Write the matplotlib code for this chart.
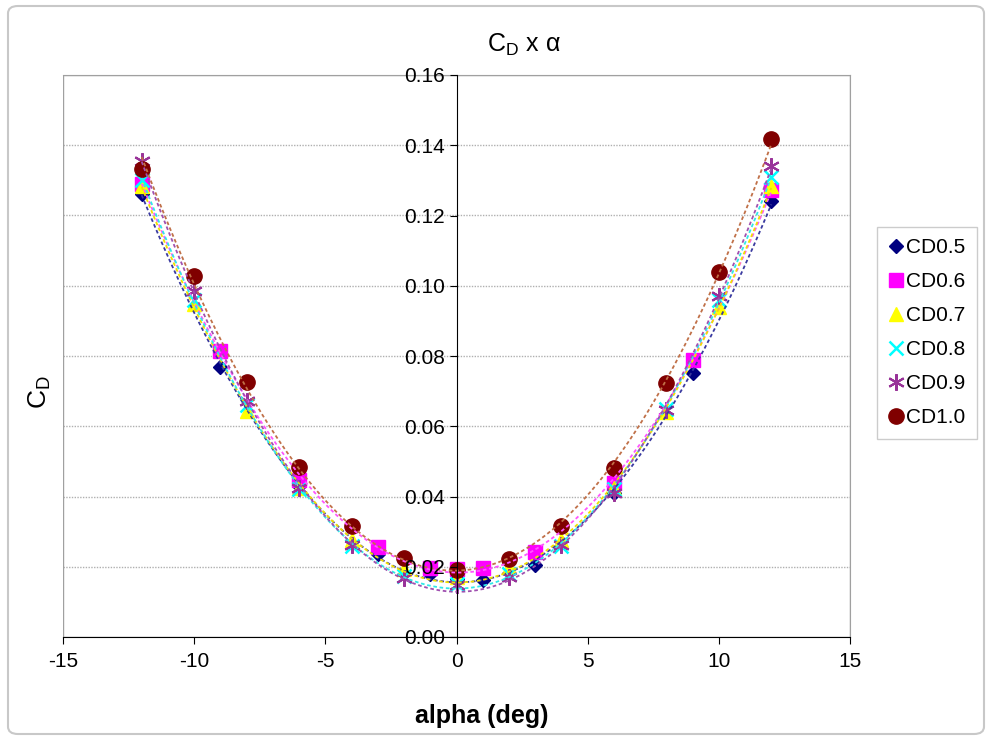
import numpy as np
import matplotlib
matplotlib.use('Agg')
import matplotlib.pyplot as plt
from matplotlib.patches import Rectangle, FancyBboxPatch

plt.rcParams['font.family'] = ['Liberation Sans', 'DejaVu Sans']
plt.rcParams['mathtext.fontset'] = 'custom'
plt.rcParams['mathtext.rm'] = 'Liberation Sans'
plt.rcParams['axes.unicode_minus'] = False

# angle of attack (deg)
alpha_a = [-12, -9, -6, -3, -1, 0, 1, 3, 6, 9, 12]
alpha_b = [-12, -10, -8, -6, -4, -2, 0, 2, 4, 6, 8, 10, 12]

cd05 = [0.126, 0.077, 0.043, 0.0235, 0.018, 0.0165, 0.0163, 0.0205, 0.041, 0.0753, 0.1242]
cd06 = [0.129, 0.0814, 0.0448, 0.0257, 0.0197, 0.0195, 0.0197, 0.0242, 0.0439, 0.079, 0.1273]
cd07 = [0.1285, 0.0947, 0.0643, 0.0425, 0.0275, 0.0195, 0.017, 0.020, 0.0275, 0.0425, 0.064, 0.094, 0.1284]
cd08 = [0.130, 0.096, 0.066, 0.042, 0.026, 0.0175, 0.015, 0.018, 0.026, 0.042, 0.065, 0.096, 0.131]
cd09 = [0.1356, 0.0984, 0.0671, 0.0425, 0.0262, 0.0168, 0.0148, 0.0171, 0.0262, 0.0411, 0.0647, 0.097, 0.1341]
cd10 = [0.1332, 0.1027, 0.0727, 0.0485, 0.0316, 0.0225, 0.019, 0.0222, 0.0316, 0.0482, 0.0724, 0.1038, 0.1418]

labels = ['CD0.5', 'CD0.6', 'CD0.7', 'CD0.8', 'CD0.9', 'CD1.0']

fig = plt.figure(figsize=(9.93, 7.4), dpi=100)
ax = fig.add_axes([63/993, 1-637/740, (850-63)/993, (637-75)/740])

# outer chart frame
fig.patches.append(FancyBboxPatch((8/993, 6/740), 976/993, 728/740,
                                  boxstyle='round,pad=0,rounding_size=0.01',
                                  transform=fig.transFigure, fill=False,
                                  edgecolor='#c8c8c8', lw=1.5))

series = [
    (alpha_a, cd05, 'D', '#000080', '#3a3aa0', 7, 1),
    (alpha_a, cd06, 's', '#ff00ff', '#ff55ff', 10, 1),
    (alpha_b, cd07, '^', '#ffff00', '#f0e000', 10, 1),
    (alpha_b, cd08, 'x', '#00ffff', '#30e8e8', 10, 1.8),
    (alpha_b, cd09, (6, 2, 0), '#993399', '#a050b0', 12, 1.5),
    (alpha_b, cd10, 'o', '#800000', '#c07048', 11, 1),
]

xs = np.linspace(-12, 12, 200)
for (a, c, m, col, tcol, ms, mew), lab in zip(series, labels):
    if m in ('x',) or isinstance(m, tuple):
        ax.plot(a, c, linestyle='none', marker=m, color=col, markersize=ms,
                markeredgewidth=mew, label=lab, zorder=3)
    else:
        ax.plot(a, c, linestyle='none', marker=m, color=col, markersize=ms,
                markeredgecolor=col, label=lab, zorder=3)
    # quadratic trendline
    p = np.polyfit(a, c, 2)
    ax.plot(xs, np.polyval(p, xs), linestyle=(0, (2, 1.5)), color=tcol, lw=1.3, zorder=4)

ax.set_xlim(-15, 15)
ax.set_ylim(0, 0.16)
ax.set_xticks(range(-15, 16, 5))
ax.set_yticks(np.arange(0, 0.161, 0.02))
ax.set_yticklabels(['%.2f' % v for v in np.arange(0, 0.161, 0.02)])
ax.tick_params(axis='both', labelsize=15, direction='out', length=5, color='black')
ax.tick_params(axis='x', pad=6)

for y in np.arange(0.02, 0.159, 0.02):
    ax.axhline(y, color='#b0b0b0', linestyle=(0, (1, 1)), lw=1, zorder=0)

ax.spines['left'].set_position(('data', 0))
ax.spines['left'].set_color('black')
ax.spines['left'].set_zorder(5)
ax.yaxis.set_zorder(5)
ax.spines['bottom'].set_color('black')
ax.spines['top'].set_color('#a0a0a0')
ax.spines['right'].set_color('#a0a0a0')
ax.add_patch(Rectangle((0, 0), 1, 1, transform=ax.transAxes, fill=False,
                       edgecolor='#a0a0a0', lw=1, zorder=0))

fig.text(524/993, 1-45/740, r'$\mathregular{C_D}$ x α', ha='center', va='center', fontsize=18)
fig.text(482/993, 1-716/740, 'alpha (deg)', ha='center', va='center', fontsize=18, fontweight='bold')
fig.text(40/993, 1-392/740, r'$\mathregular{C_D}$', ha='center', va='center', fontsize=19,
         rotation=90)

fig.legend(loc='center left', bbox_to_anchor=(877/993, 1-333/740), fontsize=15,
           handlelength=0.7, handletextpad=0.15, labelspacing=0.72, borderpad=0.55,
           borderaxespad=0, frameon=True, fancybox=False, edgecolor='#c0c0c0', numpoints=1)

fig.savefig('out.png', dpi=100)
